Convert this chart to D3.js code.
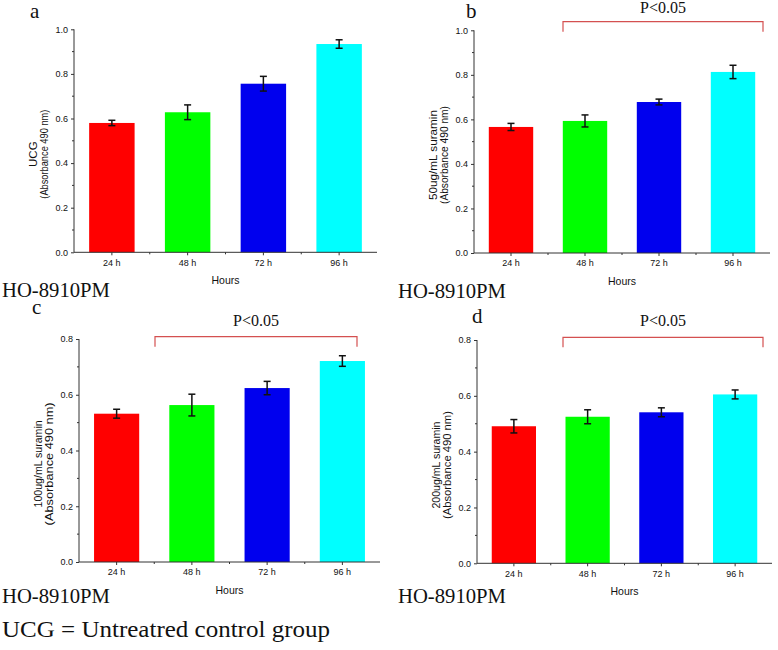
<!DOCTYPE html>
<html>
<head>
<meta charset="utf-8">
<script src="https://cdn.jsdelivr.net/npm/d3@7"></script>
<style>
  body { margin: 0; background: #fff; }
  svg text { fill: #111; }
</style>
</head>
<body>
<div id="chart"></div>
<script>
// data
const hours = ["24 h", "48 h", "72 h", "96 h"];
const barColors = ["#ff0000", "#00ff00", "#0000ee", "#00ffff"];
const panelLetters = ["a", "b", "c", "d"];
const yTitles = ["UCG", "50ug/mL suramin", "100ug/mL suramin", "200ug/mL suramin"];
const yMax = [1.0, 1.0, 0.8, 0.8];
const meansA = [0.580, 0.628, 0.756, 0.934];
const errA   = [0.012, 0.033, 0.033, 0.019];
const meansB = [0.566, 0.593, 0.678, 0.813];
const errB   = [0.016, 0.027, 0.013, 0.030];
const meansC = [0.532, 0.563, 0.624, 0.721];
const errC   = [0.016, 0.039, 0.024, 0.019];
const meansD = [0.491, 0.525, 0.541, 0.605];
const errD   = [0.024, 0.025, 0.016, 0.016];
const showSig = [false, true, true, true];
const sigLabel = "P<0.05";
const cellLine = "HO-8910PM";
const footnote = "UCG = Untreatred control group";

const means = [meansA, meansB, meansC, meansD];
const errs = [errA, errB, errC, errD];

// plot frames (axis box in px) and annotation spots for each panel
const frames = [
  {left: 74,  right: 377, top: 29.3, bottom: 252.3, letterX: 30,  letterY: 18,  br: null,                        sigY: 13,  lab1: null, lab2: 89,  hoX: 2,   hoY: 297},
  {left: 474, right: 770, top: 30.3, bottom: 253,   letterX: 466, letterY: 18,  br: {x0: 563, x1: 763, y: 21.7},  sigY: 13,  lab1: 90,   lab2: 98,  hoX: 398, hoY: 298},
  {left: 79,  right: 380, top: 339,  bottom: 562,   letterX: 32,  letterY: 314, br: {x0: 155, x1: 357, y: 336.7}, sigY: 326, lab1: 87,   lab2: 123, hoX: 2,   hoY: 603},
  {left: 477, right: 772, top: 340,  bottom: 563.3, letterX: 472, letterY: 323, br: {x0: 563, x1: 763, y: 337.3}, sigY: 326, lab1: 87,   lab2: 108, hoX: 398, hoY: 603}
];

const svg = d3.select("#chart").append("svg")
  .attr("width", 778).attr("height", 650);

const sans = "'Liberation Sans', Arial, sans-serif";
const serif = "'Liberation Serif', 'Times New Roman', serif";
const axisColor = "#333";

frames.forEach((f, p) => {
  const g = svg.append("g");
  const data = hours.map((h, i) => ({h: h, v: means[p][i], e: errs[p][i], c: barColors[i]}));

  const x = d3.scaleBand().domain(hours).range([f.left, f.right])
    .paddingInner(0.4).paddingOuter(0.2);
  const y = d3.scaleLinear().domain([0, yMax[p]]).range([f.bottom, f.top]);
  const cx = d => x(d.h) + x.bandwidth() / 2;

  // bars
  g.selectAll("rect.bar").data(data).enter().append("rect")
    .attr("class", "bar")
    .attr("x", d => x(d.h))
    .attr("y", d => y(d.v))
    .attr("width", x.bandwidth())
    .attr("height", d => y(0) - y(d.v))
    .attr("fill", d => d.c);

  // error bars
  const eb = g.selectAll("g.err").data(data).enter().append("g").attr("class", "err")
    .attr("stroke", "#111").attr("stroke-width", 1.5);
  eb.append("line")
    .attr("x1", cx).attr("x2", cx)
    .attr("y1", d => y(d.v - d.e)).attr("y2", d => y(d.v + d.e));
  eb.append("line")
    .attr("x1", d => cx(d) - 3.5).attr("x2", d => cx(d) + 3.5)
    .attr("y1", d => y(d.v + d.e)).attr("y2", d => y(d.v + d.e));
  eb.append("line")
    .attr("x1", d => cx(d) - 3.5).attr("x2", d => cx(d) + 3.5)
    .attr("y1", d => y(d.v - d.e)).attr("y2", d => y(d.v - d.e));

  // y axis
  const yAxis = g.append("g").attr("transform", `translate(${f.left},0)`)
    .call(d3.axisLeft(y).tickValues(d3.range(0, yMax[p] + 0.001, 0.2))
      .tickFormat(d3.format(".1f")).tickSize(3).tickPadding(3));
  yAxis.select(".domain").attr("stroke", axisColor).attr("d", `M0,${f.top}V${f.bottom}`);
  yAxis.selectAll(".tick line").attr("stroke", axisColor);
  yAxis.selectAll("text").attr("font-family", sans).attr("font-size", 9).attr("fill", "#222");
  yAxis.selectAll("line.minor").data(d3.range(0.1, yMax[p], 0.2)).enter().append("line")
    .attr("class", "minor").attr("x1", -2).attr("x2", 0)
    .attr("y1", d => y(d)).attr("y2", d => y(d)).attr("stroke", axisColor);

  // x axis, minor ticks between categories
  const xAxis = g.append("g").attr("transform", `translate(0,${f.bottom})`)
    .call(d3.axisBottom(x).tickSize(3).tickPadding(4));
  xAxis.select(".domain").attr("stroke", axisColor).attr("d", `M${f.left},0H${f.right}`);
  xAxis.selectAll(".tick line").attr("stroke", axisColor);
  xAxis.selectAll("text").attr("font-family", sans).attr("font-size", 9).attr("fill", "#222");
  const gap = x.step() * x.paddingInner() / 2;
  xAxis.selectAll("line.minor").data(hours.slice(1)).enter().append("line")
    .attr("class", "minor")
    .attr("x1", d => x(d) - gap).attr("x2", d => x(d) - gap)
    .attr("y1", 0).attr("y2", 2).attr("stroke", axisColor);

  // x title
  g.append("text")
    .attr("x", (f.left + f.right) / 2).attr("y", f.bottom + 32)
    .attr("text-anchor", "middle").attr("font-family", sans).attr("font-size", 10.5)
    .text("Hours");

  // y title (two lines)
  const cy = f.bottom - 0.44 * (f.bottom - f.top);
  const yt = g.append("text")
    .attr("transform", `translate(${f.left - 37},${cy}) rotate(-90)`)
    .attr("text-anchor", "middle").attr("font-family", sans).attr("font-size", 11.5);
  const t1 = yt.append("tspan").attr("x", 0).attr("y", 0).text(yTitles[p]);
  if (f.lab1) t1.attr("textLength", f.lab1).attr("lengthAdjust", "spacingAndGlyphs");
  yt.append("tspan").attr("x", 0).attr("y", 10.5)
    .attr("textLength", f.lab2).attr("lengthAdjust", "spacingAndGlyphs")
    .text("(Absorbance 490 nm)");

  // panel letter
  g.append("text")
    .attr("x", f.letterX).attr("y", f.letterY)
    .attr("font-family", serif).attr("font-size", 21)
    .text(panelLetters[p]);

  // significance bracket
  if (showSig[p]) {
    const b = f.br;
    g.append("path")
      .attr("d", `M${b.x0},${b.y + 10}V${b.y}H${b.x1}V${b.y + 10}`)
      .attr("fill", "none").attr("stroke", "#d45050").attr("stroke-width", 1.2);
    g.append("text")
      .attr("x", (b.x0 + b.x1) / 2).attr("y", f.sigY)
      .attr("text-anchor", "middle").attr("font-family", serif).attr("font-size", 16)
      .text(sigLabel);
  }

  // cell line label
  g.append("text")
    .attr("x", f.hoX).attr("y", f.hoY)
    .attr("font-family", serif).attr("font-size", 21)
    .attr("textLength", 108).attr("lengthAdjust", "spacingAndGlyphs")
    .attr("fill", "#222")
    .text(cellLine);
});

svg.append("text")
  .attr("x", 2).attr("y", 637)
  .attr("font-family", serif).attr("font-size", 24)
  .attr("textLength", 328).attr("lengthAdjust", "spacingAndGlyphs")
  .text(footnote);
</script>
</body>
</html>
